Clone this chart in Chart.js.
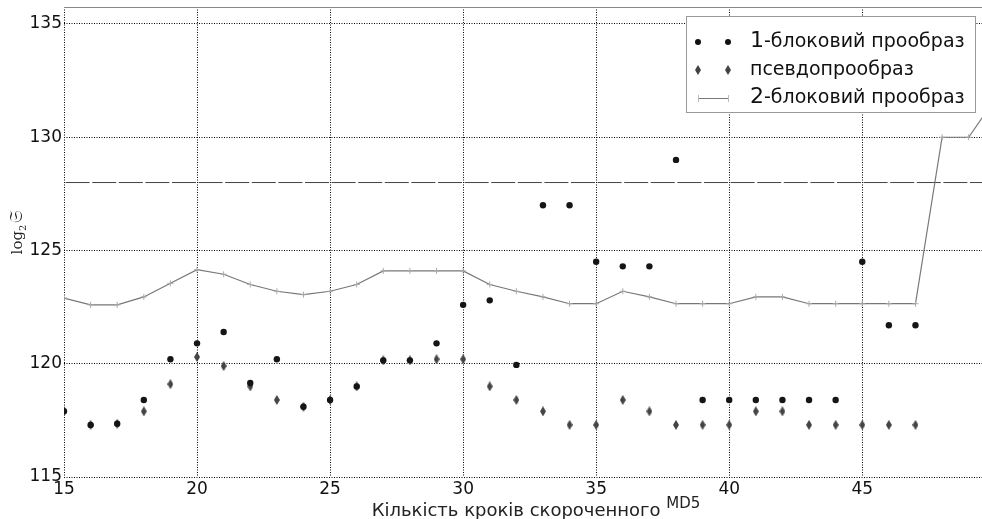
<!DOCTYPE html>
<html>
<head>
<meta charset="utf-8">
<script src="https://cdn.jsdelivr.net/npm/chart.js@4.4.1/dist/chart.umd.min.js"></script>
<style>
  html, body { margin: 0; padding: 0; background: #fff; }
  #wrap { width: 982px; height: 519px; position: relative; }
</style>
</head>
<body>
<div id="wrap"><canvas id="c"></canvas></div>
<script>
// кроки скороченого MD5
var steps = [15, 16, 17, 18, 19, 20, 21, 22, 23, 24, 25, 26, 27, 28, 29, 30, 31,
             32, 33, 34, 35, 36, 37, 38, 39, 40, 41, 42, 43, 44, 45, 46, 47];
var lineSteps = [15, 16, 17, 18, 19, 20, 21, 22, 23, 24, 25, 26, 27, 28, 29, 30, 31, 32,
                 33, 34, 35, 36, 37, 38, 39, 40, 41, 42, 43, 44, 45, 46, 47, 48, 49, 50];

// 1-блоковий прообраз
var oneBlock = [117.9, 117.3, 117.35, 118.4, 120.2, 120.9, 121.4, 119.15, 120.2, 118.1, 118.4,
                119.0, 120.15, 120.15, 120.9, 122.6, 122.8, 119.95, 127.0, 127.0, 124.5, 124.3,
                124.3, 129.0, 118.4, 118.4, 118.4, 118.4, 118.4, 118.4, 124.5, 121.7, 121.7];
// псевдопрообраз
var pseudo = [117.9, 117.3, 117.35, 117.9, 119.1, 120.3, 119.9, 119.0, 118.4, 118.1, 118.4,
              119.0, 120.15, 120.15, 120.2, 120.2, 119.0, 118.4, 117.9, 117.3, 117.3, 118.4,
              117.9, 117.3, 117.3, 117.3, 117.9, 117.9, 117.3, 117.3, 117.3, 117.3, 117.3];
// 2-блоковий прообраз
var twoBlock = [122.9, 122.6, 122.6, 122.95, 123.55, 124.15, 123.95, 123.5, 123.2, 123.05, 123.2,
                123.5, 124.1, 124.1, 124.1, 124.1, 123.5, 123.2, 122.95, 122.65, 122.65, 123.2,
                122.95, 122.65, 122.65, 122.65, 122.95, 122.95, 122.65, 122.65, 122.65, 122.65,
                122.65, 130.0, 130.0, 131.7];
// межа 128
var limitX = [15, 50];
var limitY = [128, 128];

var xTicks = [15, 20, 25, 30, 35, 40, 45];
var yTicks = [115, 120, 125, 130, 135];

var legendLabels = ['блоковий прообраз', 'псевдопрообраз', 'блоковий прообраз'];
var legendNums = ['1', '', '2'];
var xTitle = 'Кількість кроків скороченного';
var xTitleSup = 'MD5';

function pts(xs, ys) {
    return xs.map(function (x, i) { return { x: x, y: ys[i] }; });
}

// тонкий ромб
function diamond(w, h, color) {
    var cv = document.createElement('canvas');
    cv.width = w; cv.height = h;
    var g = cv.getContext('2d');
    g.fillStyle = color;
    g.beginPath();
    g.moveTo(w / 2, 0); g.lineTo(w, h / 2); g.lineTo(w / 2, h); g.lineTo(0, h / 2);
    g.closePath(); g.fill();
    return cv;
}
var diamondImg = diamond(6, 10, '#444');

var FONT = '"DejaVu Sans", "Noto Sans", sans-serif';

var decor = {
    id: 'decor',
    beforeDatasetsDraw: function (chart) {
        var ctx = chart.ctx, a = chart.chartArea;
        ctx.save();
        ctx.strokeStyle = '#888';
        ctx.lineWidth = 1;
        ctx.beginPath();
        ctx.moveTo(a.left, a.top + 0.5); ctx.lineTo(a.right, a.top + 0.5);
        ctx.stroke();
        ctx.restore();
    },
    afterDraw: function (chart) {
        var ctx = chart.ctx;
        ctx.save();
        // підпис осі x
        ctx.fillStyle = '#222';
        ctx.textBaseline = 'alphabetic';
        ctx.font = '18px ' + FONT;
        var w1 = ctx.measureText(xTitle + ' ').width;
        ctx.font = '15px ' + FONT;
        var w2 = ctx.measureText(xTitleSup).width;
        var x0 = 536 - (w1 + w2) / 2;
        ctx.font = '18px ' + FONT;
        ctx.textAlign = 'left';
        ctx.fillText(xTitle, x0, 516);
        ctx.font = '15px ' + FONT;
        ctx.fillText(xTitleSup, x0 + w1, 508);

        // підпис осі y
        ctx.save();
        ctx.translate(22, 232);
        ctx.rotate(-Math.PI / 2);
        ctx.font = '15px "DejaVu Serif", serif';
        var lw = ctx.measureText('log').width;
        ctx.font = '10px "DejaVu Serif", serif';
        var sw = ctx.measureText('2').width;
        ctx.font = '18px "DejaVu Serif", serif';
        var fw = ctx.measureText('𝔖').width;
        var sx = -(lw + sw + fw + 2) / 2;
        ctx.font = '15px "DejaVu Serif", serif';
        ctx.fillText('log', sx, 0);
        ctx.font = '10px "DejaVu Serif", serif';
        ctx.fillText('2', sx + lw, 4);
        ctx.font = '18px "DejaVu Serif", serif';
        ctx.fillText('𝔖', sx + lw + sw + 2, 0);
        ctx.restore();

        // легенда
        var bx = 686.5, by = 16.5, bw = 289, bh = 96;
        ctx.fillStyle = '#fff';
        ctx.fillRect(bx, by, bw, bh);
        ctx.strokeStyle = '#999';
        ctx.lineWidth = 1;
        ctx.strokeRect(bx, by, bw, bh);
        var rows = [42, 70, 98];
        var mx = [698, 728];
        ctx.fillStyle = '#111';
        mx.forEach(function (x) {
            ctx.beginPath(); ctx.arc(x, rows[0], 3, 0, Math.PI * 2); ctx.fill();
        });
        mx.forEach(function (x) {
            ctx.drawImage(diamondImg, x - 3, rows[1] - 5);
        });
        ctx.strokeStyle = '#777';
        ctx.beginPath(); ctx.moveTo(mx[0], rows[2] + 0.5); ctx.lineTo(mx[1], rows[2] + 0.5); ctx.stroke();
        ctx.strokeStyle = '#bbb';
        mx.forEach(function (x) {
            ctx.beginPath(); ctx.moveTo(x + 0.5, rows[2] - 3); ctx.lineTo(x + 0.5, rows[2] + 4); ctx.stroke();
        });
        ctx.fillStyle = '#111';
        ctx.textBaseline = 'middle';
        for (var i = 0; i < rows.length; i++) {
            var tx = 750;
            if (legendNums[i]) {
                ctx.font = '22px ' + FONT;
                ctx.fillText(legendNums[i], tx, rows[i] - 1);
                tx += ctx.measureText(legendNums[i]).width;
                ctx.font = '19px ' + FONT;
                ctx.fillText('-', tx, rows[i]);
                tx += ctx.measureText('-').width;
            }
            ctx.font = '19px ' + FONT;
            ctx.fillText(legendLabels[i], tx, rows[i]);
        }
        ctx.restore();
    }
};

function keepTicks(list) {
    return function (scale) {
        scale.ticks = list.map(function (v) { return { value: v }; });
    };
}

new Chart(document.getElementById('c'), {
    type: 'line',
    data: {
        datasets: [
            {
                label: 'limit',
                data: pts(limitX, limitY),
                borderColor: '#444',
                borderWidth: 1,
                borderDash: [24, 2.6],
                borderDashOffset: 25,
                pointRadius: 0,
                order: 4
            },
            {
                label: '2-блоковий прообраз',
                data: pts(lineSteps, twoBlock),
                borderColor: '#777',
                borderWidth: 1.2,
                pointStyle: 'cross',
                pointRadius: 3,
                pointBorderColor: '#aaa',
                pointBorderWidth: 1,
                tension: 0,
                order: 3
            },
            {
                label: 'псевдопрообраз',
                data: pts(steps, pseudo),
                showLine: false,
                pointStyle: diamondImg,
                pointRadius: 4,
                order: 2
            },
            {
                label: '1-блоковий прообраз',
                data: pts(steps, oneBlock),
                showLine: false,
                pointStyle: 'circle',
                pointRadius: 3.2,
                pointBackgroundColor: '#151515',
                pointBorderWidth: 0,
                order: 1
            }
        ]
    },
    options: {
        responsive: true,
        maintainAspectRatio: false,
        animation: false,
        layout: { autoPadding: false, padding: { top: 7, right: 0, left: 0, bottom: 0 } },
        plugins: {
            legend: { display: false },
            tooltip: { enabled: false }
        },
        scales: {
            x: {
                type: 'linear',
                min: 15,
                max: 49.5,
                afterBuildTicks: keepTicks(xTicks),
                afterFit: function (s) { s.height = 42; s.paddingLeft = 0; s.paddingRight = 0; },
                border: { display: false, dash: [1, 1.5] },
                grid: {
                    color: '#000',
                    lineWidth: 1,
                    drawTicks: false
                },
                ticks: {
                    color: '#111',
                    padding: 2,
                    maxRotation: 0,
                    autoSkip: false,
                    font: { family: FONT, size: 17 }
                }
            },
            y: {
                type: 'linear',
                min: 115,
                max: 135.75,
                afterBuildTicks: keepTicks(yTicks),
                afterFit: function (s) { s.width = 64; s.paddingTop = 0; s.paddingBottom = 0; },
                border: { display: false, dash: [1, 1.5] },
                grid: {
                    color: '#000',
                    lineWidth: 1,
                    drawTicks: false
                },
                ticks: {
                    color: '#111',
                    padding: 2,
                    autoSkip: false,
                    font: { family: FONT, size: 17 }
                }
            }
        }
    },
    plugins: [decor]
});
</script>
</body>
</html>
